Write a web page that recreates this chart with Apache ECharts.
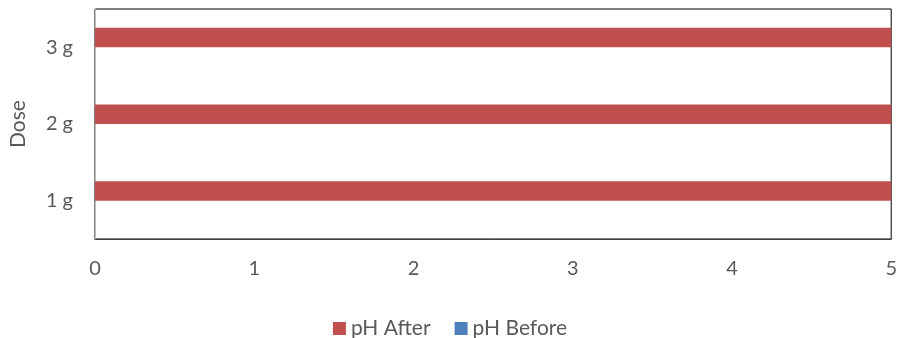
<!DOCTYPE html>
<html>
<head>
<meta charset="utf-8">
<script src="https://cdn.jsdelivr.net/npm/echarts@6/dist/echarts.min.js"></script>
<style>
  html, body { margin: 0; padding: 0; background: #fff; }
  #chart { width: 900px; height: 338px; }
</style>
</head>
<body>
<div id="chart"></div>
<script>
// Dose categories (bottom to top) and the pH readings for each dose
const doses = ['1 g', '2 g', '3 g'];
const phAfter = [7.2, 7.1, 7.0];
const phBefore = [0, 0, 0];
const xTicks = [0, 1, 2, 3, 4, 5];

const FONT = 'Lato, "Open Sans", sans-serif';
const chart = echarts.init(document.getElementById('chart'));

chart.setOption({
  animation: false,
  textStyle: { fontFamily: FONT },
  grid: {
    left: 94, right: 7, top: 9, bottom: 99,
    show: true, borderColor: '#000', borderWidth: 1
  },
  legend: {
    top: 313,
    left: 'center',
    itemWidth: 13, itemHeight: 13, itemGap: 24,
    icon: 'rect',
    textStyle: { fontSize: 21, color: '#595959', fontFamily: FONT },
    data: ['pH After', 'pH Before']
  },
  xAxis: {
    type: 'value',
    min: xTicks[0], max: xTicks[xTicks.length - 1], interval: 1,
    axisLine: { show: true, lineStyle: { color: '#404040', width: 1 } },
    axisTick: { show: false },
    splitLine: { show: false },
    axisLabel: { fontSize: 20, color: '#595959', margin: 20, fontFamily: FONT }
  },
  yAxis: {
    type: 'category',
    data: doses,
    name: 'Dose',
    nameLocation: 'middle',
    nameGap: 66,
    nameTextStyle: { fontSize: 21, color: '#595959', fontFamily: FONT },
    axisLine: { show: true, lineStyle: { color: '#BFBFBF', width: 1 } },
    axisTick: { show: false },
    axisLabel: { fontSize: 20, color: '#595959', margin: 22, fontFamily: FONT }
  },
  series: [
    {
      name: 'pH After', type: 'bar', data: phAfter,
      barWidth: 19.5, barGap: '0%',
      itemStyle: { color: '#C0504D' }
    },
    {
      name: 'pH Before', type: 'bar', data: phBefore,
      barWidth: 19.5, barGap: '0%',
      itemStyle: { color: '#4F81BD' }
    }
  ]
});
</script>
</body>
</html>
